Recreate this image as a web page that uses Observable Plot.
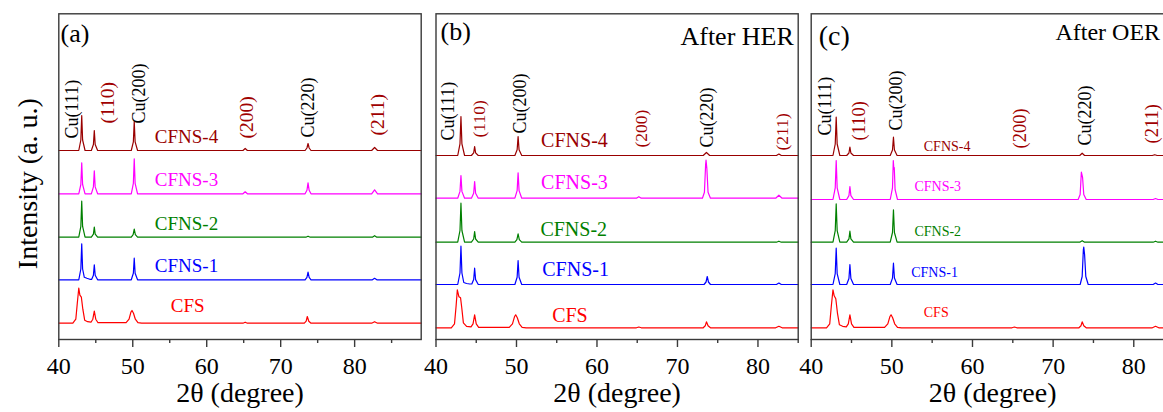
<!DOCTYPE html>
<html>
<head>
<meta charset="utf-8">
<script src="https://cdn.jsdelivr.net/npm/d3@7"></script>
<script src="https://cdn.jsdelivr.net/npm/@observablehq/plot@0.6"></script>
<style>
  html, body { margin: 0; padding: 0; background: #fff; }
  #fig { position: relative; width: 1163px; height: 412px; overflow: hidden; background: #fff; }
  .panel { position: absolute; top: 0; }
  .panel svg { max-width: none !important; }
  #fig svg, #fig svg text, #fig svg tspan { font-family: 'Liberation Serif', 'Times New Roman', serif !important; }
</style>
</head>
<body>
<div id="fig"></div>
<script>
// ---- shared categories and styling ----
const samples = ["CFS", "CFNS-1", "CFNS-2", "CFNS-3", "CFNS-4"];
const sampleColors = ["#ff0000", "#0000ff", "#008000", "#ff00ff", "#990000"];
const peakNames = ["Cu(111)", "(110)", "Cu(200)", "(200)", "Cu(220)", "(211)"];
const peakColors = ["#000000", "#a00000", "#000000", "#a00000", "#000000", "#a00000"];
const thetaMajor = [40, 50, 60, 70, 80];
const thetaMinor = [45, 55, 65, 75, 85];

// ---- (a) as-prepared: [2θ, intensity above the trace baseline] ----
const a_CFS = [[40,0],[41.9,0],[42.3,4],[42.5,20],[42.7,35],[42.85,28],[43.05,26],[43.25,14],[43.5,3],[43.9,1.5],[44.35,1],
  [44.6,4],[44.8,12],[45.0,4],[45.3,0.5],
  [49.1,0.5],[49.5,4],[49.75,11],[49.9,12.7],[50.1,10],[50.35,4],[50.7,0.5],[51.2,0],
  [64.9,0],[65.2,1],[65.5,0],
  [73.2,0],[73.45,2],[73.6,6.7],[73.8,2],[74.1,0],
  [82.3,0],[82.7,1.5],[83.1,0],[89,0]];
const a_CFNS1 = [[40,0],[42.7,0],[42.98,10.8],[43.1,36],[43.22,10.8],[43.45,2.5],[43.8,1.5],[44.2,0.5],
  [44.45,0.5],[44.68,4.5],[44.8,15],[44.92,4.5],[45.25,0],
  [49.8,0],[50.08,6.5],[50.2,21.6],[50.32,6.5],[50.65,0],
  [73.3,0],[73.55,2.5],[73.7,7.6],[73.85,2.5],[74.1,0],
  [82.4,0],[82.7,1.5],[83.0,0],[89,0]];
const a_CFNS2 = [[40,0],[42.7,0],[42.98,10.8],[43.1,36],[43.22,10.8],[43.55,0],
  [44.4,0],[44.68,3],[44.8,10],[44.92,3],[45.25,0],
  [49.8,0],[50.05,2.5],[50.2,8],[50.35,2.5],[50.65,0],
  [73.4,0],[73.7,1],[74.0,0],
  [82.4,0],[82.7,1.5],[83.0,0],[89,0]];
const a_CFNS3 = [[40,0],[42.7,0],[42.98,9.3],[43.1,31],[43.22,9.3],[43.55,0],
  [44.4,0],[44.68,6.9],[44.8,23],[44.92,6.9],[45.25,0],
  [49.8,0],[50.08,10.5],[50.2,35],[50.32,10.5],[50.65,0],
  [64.9,0],[65.2,2],[65.5,0],
  [73.3,0],[73.55,3.5],[73.7,11],[73.85,3.5],[74.1,0],
  [82.3,0],[82.7,4],[83.1,0],[89,0]];
const a_CFNS4 = [[40,0],[42.7,0],[42.98,10.5],[43.1,35],[43.22,10.5],[43.55,0],
  [44.4,0],[44.68,6],[44.8,20],[44.92,6],[45.25,0],
  [49.8,0],[50.08,8.7],[50.2,29],[50.32,8.7],[50.65,0],
  [64.9,0],[65.2,2],[65.5,0],
  [73.3,0],[73.55,2.5],[73.7,7],[73.85,2.5],[74.1,0],
  [82.3,0],[82.7,3],[83.1,0],[89,0]];
const offsetsA = [16.3, 59.7, 102.3, 145.7, 189];

// ---- (b) after HER ----
const b_CFS = [[40,0],[41.9,0],[42.3,4],[42.5,22],[42.65,38],[42.85,31],[43.05,30],[43.2,20],[43.4,5],[43.8,1.5],[44.35,1],
  [44.6,4],[44.8,13],[45.0,4],[45.3,0.5],
  [49.1,0.5],[49.5,4],[49.75,11],[49.9,13],[50.1,10],[50.35,4],[50.7,0.5],[51.2,0],
  [64.9,0],[65.2,0.8],[65.5,0],
  [73.2,0],[73.45,2],[73.6,6],[73.8,2],[74.1,0],
  [82.2,0],[82.6,1.5],[83.0,0],[85,0]];
const b_CFNS1 = [[40,0],[42.7,0],[42.98,11.5],[43.1,38.3],[43.22,11.5],[43.45,2],[43.8,1],[44.2,0.5],
  [44.45,0.5],[44.68,4.9],[44.8,16.3],[44.92,4.9],[45.25,0],
  [49.8,0],[50.08,7.2],[50.2,24],[50.32,7.2],[50.65,0],
  [73.3,0],[73.55,2.5],[73.7,8],[73.85,2.5],[74.1,0],
  [82.3,0],[82.6,1.5],[82.9,0],[85,0]];
const b_CFNS2 = [[40,0],[42.7,0],[42.98,11.7],[43.1,39],[43.22,11.7],[43.55,0],
  [44.4,0],[44.68,3.2],[44.8,10.7],[44.92,3.2],[45.25,0],
  [49.8,0],[50.05,2.5],[50.2,8.3],[50.35,2.5],[50.65,0],
  [82.3,0],[82.6,1],[82.9,0],[85,0]];
const b_CFNS3 = [[40,0],[42.7,0],[42.98,6.8],[43.1,22.7],[43.22,6.8],[43.55,0],
  [44.4,0],[44.68,5],[44.8,16.7],[44.92,5],[45.25,0],
  [49.8,0],[50.08,7.6],[50.2,25.3],[50.32,7.6],[50.65,0],
  [64.9,0],[65.2,1.5],[65.5,0],
  [73.1,0],[73.35,6],[73.5,34],[73.55,38],[73.65,30],[73.8,6],[74.1,0],
  [82.2,0],[82.6,3],[83.0,0],[85,0]];
const b_CFNS4 = [[40,0],[42.7,0],[42.98,11.7],[43.1,39],[43.22,11.7],[43.55,0],
  [44.4,0],[44.68,2.7],[44.8,9],[44.92,2.7],[45.25,0],
  [49.8,0],[50.08,5.7],[50.2,19],[50.32,5.7],[50.65,0],
  [73.2,0],[73.6,3],[74.0,0],
  [82.3,0],[82.6,1.5],[82.9,0],[85,0]];
const offsetsB = [11.7, 55, 97.3, 141.3, 184];

// ---- (c) after OER ----
const c_CFS = [[40,0],[41.9,0],[42.3,4],[42.5,22],[42.7,38],[42.85,32],[43.05,29],[43.25,15],[43.5,3],[43.9,1.5],[44.35,1],
  [44.6,4],[44.8,13],[45.0,4],[45.3,0.5],
  [49.1,0.5],[49.5,4],[49.75,11],[49.9,13],[50.1,10],[50.35,4],[50.7,0.5],[51.2,0],
  [64.9,0],[65.2,0.8],[65.5,0],
  [73.2,0],[73.45,2],[73.6,6],[73.8,2],[74.1,0],
  [82.3,0],[82.7,1.5],[83.1,0],[85,0]];
const c_CFNS1 = [[40,0],[42.7,0],[42.98,10.9],[43.1,36.3],[43.22,10.9],[43.55,0],
  [44.4,0],[44.68,6],[44.8,20],[44.92,6],[45.25,0],
  [49.8,0],[50.08,6.4],[50.2,21.3],[50.32,6.4],[50.65,0],
  [73.35,0],[73.6,8],[73.75,35],[73.8,37.3],[73.9,30],[74.05,8],[74.35,0],
  [82.4,0],[82.7,1.5],[83.0,0],[85,0]];
const c_CFNS2 = [[40,0],[42.7,0],[42.98,11.5],[43.1,38.3],[43.22,11.5],[43.55,0],
  [44.4,0],[44.68,3.3],[44.8,11],[44.92,3.3],[45.25,0],
  [49.8,0],[50.08,9.7],[50.2,32.3],[50.32,9.7],[50.65,0],
  [73.3,0],[73.6,1.5],[73.9,0],
  [82.4,0],[82.7,1],[83.0,0],[85,0]];
const c_CFNS3 = [[40,0],[42.7,0],[42.98,11.7],[43.1,39],[43.22,11.7],[43.55,0],
  [44.4,0],[44.68,3.9],[44.8,13],[44.92,3.9],[45.25,0],
  [49.8,0],[50.08,11.7],[50.18,39],[50.25,30],[50.3,32],[50.4,10],[50.7,0],
  [73.1,0],[73.35,5],[73.5,27.3],[73.65,22],[73.8,5],[74.1,0],
  [82.4,0],[82.7,1],[83.0,0],[85,0]];
const c_CFNS4 = [[40,0],[42.7,0],[42.98,11.5],[43.1,38.3],[43.22,11.5],[43.55,0],
  [44.4,0],[44.68,2.5],[44.8,8.3],[44.92,2.5],[45.25,0],
  [49.8,0],[50.08,5.5],[50.2,18.3],[50.32,5.5],[50.65,0],
  [73.3,0],[73.6,2.3],[73.9,0],
  [82.3,0],[82.6,0.8],[82.9,0],[85,0]];
const offsetsC = [11.7, 55, 97.3, 140, 184];

// ---- annotation anchors (data units: 2θ, intensity) ----
const peakLabelXA = [41.79, 46.6, 50.94, 65.45, 73.72, 83.08];
const peakLabelYA = [201, 216, 216, 201, 202, 204];
const peakLabelXB = [41.55, 45.4, 50.49, 65.5, 73.7, 83.0];
const peakLabelYB = [199, 202, 206, 192, 192, 189];
const peakLabelXC = [41.77, 45.93, 50.58, 65.95, 74.0, 82.3];
const peakLabelYC = [204, 199, 209, 191, 194, 196];
const nameXA = [55.15, 52.98, 52.98, 52.98, 52.98];
const nameYA = [27.3, 67.3, 109.7, 154, 197];
const nameXB = [54.43, 53.2, 52.97, 53.06, 53.06];
const nameYB = [17.3, 64, 104, 150.7, 192.3];
const nameXC = [53.96, 52.4, 52.8, 52.8, 53.96];
const nameYC = [22.3, 62.3, 104, 148.3, 189];

const serif = "Liberation Serif";

function panel(cfg) {
  const rows = cfg.traces.flatMap((pts, k) =>
    pts.map(([t, v]) => ({sample: samples[k], theta: t, counts: cfg.offsets[k] + v, color: sampleColors[k]}))
  );
  const marks = [
    Plot.line(rows, {x: "theta", y: "counts", z: "sample", stroke: "color", strokeWidth: 1.2}),
    Plot.frame({stroke: "#3a3a3a", strokeWidth: 1.4}),
    Plot.axisX({ticks: thetaMajor, tickSize: 8, tickPadding: 9, fontSize: 24, fontFamily: serif, label: null,
      stroke: "#3a3a3a", strokeWidth: 1.4, fill: "#000", tickFormat: d => d}),
    Plot.axisX({ticks: thetaMinor.filter(t => t <= cfg.xMax), tickSize: 4, label: null,
      stroke: "#3a3a3a", strokeWidth: 1.4, tickFormat: () => ""}),
    Plot.text(peakNames, {x: (d, i) => cfg.peakX[i], y: (d, i) => cfg.peakY[i], text: d => d,
      rotate: -90, textAnchor: "start", lineAnchor: "middle", fontFamily: serif,
      fontSize: (d, i) => peakColors[i] === "#000000" ? cfg.cuSize : cfg.hklSize,
      fill: (d, i) => peakColors[i]}),
    Plot.text(samples, {x: (d, i) => cfg.nameX[i], y: (d, i) => cfg.nameY[i], text: d => d,
      textAnchor: "start", lineAnchor: "bottom", fontSize: cfg.nameSize, fontFamily: serif,
      fill: (d, i) => sampleColors[i]}),
    Plot.text([cfg.tag], {frameAnchor: "top-left", dx: cfg.tagDx, dy: cfg.tagDy, textAnchor: "start",
      lineAnchor: "bottom", fontSize: cfg.tagSize, fontFamily: serif, fill: "#000"}),
    Plot.text(["2θ (degree)"], {frameAnchor: "bottom", dy: 62.7, lineAnchor: "bottom",
      fontSize: 28, fontFamily: serif, fill: "#000", ariaLabel: "x-title"})
  ];
  if (cfg.note) marks.push(Plot.text([cfg.note], {frameAnchor: "top-right", dx: cfg.noteDx, dy: cfg.noteDy,
    textAnchor: "end", lineAnchor: "bottom", fontSize: cfg.noteSize, fontFamily: serif, fill: "#000"}));
  if (cfg.yTitle) marks.push(Plot.text([cfg.yTitle], {frameAnchor: "left", dx: -31, dy: 7, rotate: -90,
    textAnchor: "middle", lineAnchor: "middle", fontSize: 28, fontFamily: serif, fill: "#000"}));

  const svg = Plot.plot({
    width: cfg.width, height: 412,
    marginLeft: cfg.marginLeft, marginRight: cfg.marginRight, marginTop: 13.3, marginBottom: 73,
    x: {domain: [40, cfg.xMax], axis: null},
    y: {domain: [0, 325.7], axis: null},
    color: {type: "identity"},
    style: {fontFamily: serif, background: "transparent", overflow: "visible"},
    marks
  });

  // italic θ in the x title
  d3.select(svg).selectAll('g[aria-label="x-title"] text').each(function () {
    const t = d3.select(this);
    t.text(null);
    t.append("tspan").text("2 ");
    t.append("tspan").attr("font-style", "italic").text("θ");
    t.append("tspan").text("(degree)");
  });

  const holder = document.createElement("div");
  holder.className = "panel";
  holder.style.left = cfg.left + "px";
  holder.style.width = cfg.width + "px";
  holder.appendChild(svg);
  document.getElementById("fig").appendChild(holder);
}

panel({
  traces: [a_CFS, a_CFNS1, a_CFNS2, a_CFNS3, a_CFNS4], offsets: offsetsA, xMax: 89,
  left: 0, width: 428, marginLeft: 58.3, marginRight: 7.3,
  peakX: peakLabelXA, peakY: peakLabelYA, cuSize: 18, hklSize: 19.5,
  nameX: nameXA, nameY: nameYA, nameSize: 19,
  tag: "(a)", tagDx: 1.7, tagDy: 27.8, tagSize: 26,
  yTitle: "Intensity (a. u.)"
});
panel({
  traces: [b_CFS, b_CFNS1, b_CFNS2, b_CFNS3, b_CFNS4], offsets: offsetsB, xMax: 85,
  left: 405, width: 400, marginLeft: 30.5, marginRight: 7.3,
  peakX: peakLabelXB, peakY: peakLabelYB, cuSize: 18, hklSize: 17.5,
  nameX: nameXB, nameY: nameYB, nameSize: 20,
  tag: "(b)", tagDx: 4.5, tagDy: 26, tagSize: 26,
  note: "After HER", noteDx: -4.4, noteDy: 31, noteSize: 26
});
panel({
  traces: [c_CFS, c_CFNS1, c_CFNS2, c_CFNS3, c_CFNS4], offsets: offsetsC, xMax: 85,
  left: 780, width: 400, marginLeft: 30.7, marginRight: 6.4,
  peakX: peakLabelXC, peakY: peakLabelYC, cuSize: 18, hklSize: 18.5,
  nameX: nameXC, nameY: nameYC, nameSize: 14,
  tag: "(c)", tagDx: 7.6, tagDy: 31.4, tagSize: 28,
  note: "After OER", noteDx: -14, noteDy: 26, noteSize: 24
});
</script>
</body>
</html>
